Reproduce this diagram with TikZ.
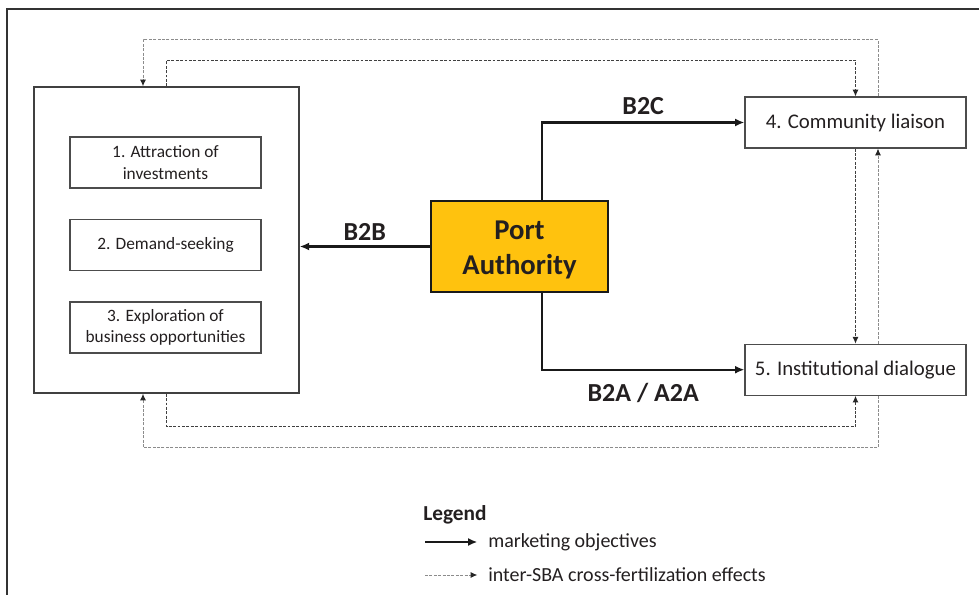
\documentclass[tikz,border=0pt]{standalone}
\usepackage{fontspec}
\setmainfont{Carlito}
\usetikzlibrary{arrows.meta,calc,positioning}
\definecolor{paorange}{RGB}{255,194,14}
\definecolor{txtgray}{RGB}{35,31,32}

\begin{document}
\begin{tikzpicture}[x=0.75pt,y=-0.75pt,>={Latex[length=7pt,width=6pt]},
	every node/.style={text=txtgray},
	box/.style={draw=black!70,line width=0.9pt,rectangle,inner sep=0pt,align=center},
	objective/.style={box,minimum width=143.25pt,minimum height=38.25pt,font=\fontsize{13}{16.2}\selectfont},
	sba/.style={box,minimum width=165.75pt,minimum height=38.25pt,font=\fontsize{15.6}{19}\selectfont},
	pa/.style={draw=black!90,line width=1.8pt,fill=paorange,minimum width=132.75pt,minimum height=68.25pt,
		align=center,font=\fontsize{21.5}{26}\bfseries},
	main/.style={->,line width=1.6pt,black!90},
	cross/.style={-{Latex[length=5pt,width=4.5pt,color=black!85]},line width=0.7pt,black!75,dash pattern=on 2.2pt off 1.1pt},
	outer/.style={draw=black!45},
	lbl/.style={font=\fontsize{19.5}{23}\bfseries},
	legtext/.style={anchor=west,inner sep=0pt,font=\fontsize{15}{18}\selectfont}]
	\useasboundingbox (0,0) rectangle (979,595);
	\draw[line width=1.5pt,black!80] (7,9) rectangle (1000,620);

	% business objectives
	\node[box,draw=black!75,line width=1.1pt,minimum width=198.75pt,minimum height=229.5pt] (objectives) at (166.5,240) {};
	\node[objective] (obj1) at (165.5,162.5) {1. Attraction of\\investments};
	\node[objective,below=23pt of obj1] (obj2) {2. Demand-seeking};
	\node[objective,below=22.5pt of obj2] (obj3) {3. Exploration of\\business opportunities};

	\node[pa] (pa) at (519.5,246.5) {};
	\node[align=center,font=\fontsize{21.5}{26}\bfseries] (patext) at (519.5,250) {Port\\Authority};
	\node[sba] (liaison) at (855.5,122.5) {4. Community liaison};
	\node[sba,below=146.25pt of liaison] (dialogue) {5. Institutional dialogue};

	% marketing objectives
	\draw[main] (pa.west) -- node[lbl,above] {B2B} (objectives.east |- pa.west);
	\draw[main] ($(pa.north)+(22.5,0)$) |- node[lbl,above=2pt,pos=0.75] {B2C} (liaison.west);
	\draw[main] ($(pa.south)+(22.5,0)$) |- node[lbl,below=6pt,pos=0.75] {B2A / A2A} (dialogue.west);

	% cross-fertilization
	\draw[cross,outer] ($(liaison.north)+(22.5,0)$) -- ++(0,-57) -| ($(objectives.north)+(-23.5,0)$);
	\draw[cross] (objectives.north) -- ++(0,-26) -| (liaison.north);
	\draw[cross] (liaison.south) -- (dialogue.north);
	\draw[cross,outer] ($(dialogue.north)+(22.5,0)$) -- ($(liaison.south)+(22.5,0)$);
	\draw[cross] (objectives.south) -- ++(0,33) -| (dialogue.south);
	\draw[cross,outer] ($(dialogue.south)+(22.5,0)$) -- ++(0,52) -| ($(objectives.south)+(-23.5,0)$);

	% legend
	\node[anchor=west,inner sep=0pt,font=\fontsize{16}{19}\bfseries] (legend) at (423,515) {Legend};
	\node[legtext] (legmain) at (488,542) {marketing objectives};
	\node[legtext] (legcross) at (488,575) {inter-SBA cross-fertilization effects};
	\coordinate (legmainstart) at (425,542);
	\coordinate (legcrossstart) at (425,575);
	\draw[main] (legmainstart) -- ([xshift=-8pt]legmain.west);
	\draw[cross,outer] (legcrossstart) -- ([xshift=-8pt]legcross.west);
\end{tikzpicture}
\end{document}
